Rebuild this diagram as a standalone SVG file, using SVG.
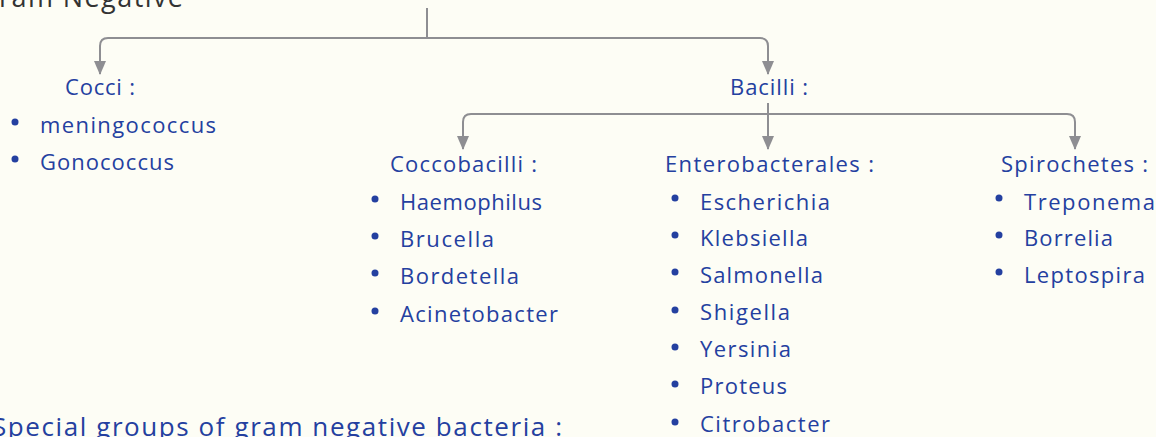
<svg xmlns="http://www.w3.org/2000/svg" width="1156" height="437" viewBox="0 0 1156 437">
<defs>
<marker id="arr" viewBox="0 0 14 12" refX="13" refY="6" markerWidth="14" markerHeight="12" markerUnits="userSpaceOnUse" orient="auto">
<path d="M0,0 L14,6 L0,12 z" fill="#8e8e92"/>
</marker>
<style>
.t{font-family:"Open Sans","Liberation Sans",sans-serif;font-size:22px;fill:#2440a0;}
.s{font-family:"Open Sans","Liberation Sans",sans-serif;font-size:26px;fill:#2440a0;}
.h{font-family:"Open Sans","Liberation Sans",sans-serif;font-size:27px;fill:#333333;}
.c{fill:none;stroke:#8e8e92;stroke-width:2;}
.b{fill:#2440a0;}
</style>
</defs>
<rect width="1156" height="437" fill="#fdfdf5"/>
<g id="connectors">
<path class="c" d="M427,8 V38"/>
<path class="c" d="M427,38 H108 Q100,38 100,46 V74" marker-end="url(#arr)"/>
<path class="c" d="M427,38 H760 Q768,38 768,46 V74" marker-end="url(#arr)"/>
<path class="c" d="M768,103 V149" marker-end="url(#arr)"/>
<path class="c" d="M768,114 H471 Q463,114 463,122 V149" marker-end="url(#arr)"/>
<path class="c" d="M768,114 H1067 Q1075,114 1075,122 V149" marker-end="url(#arr)"/>
</g>
<g id="gram-negative"><text class="h" x="-22" y="7" textLength="205">Gram Negative</text></g>
<g id="cocci">
<text class="t" x="65" y="95" textLength="70">Cocci :</text>
<circle class="b" cx="15" cy="122" r="3.5"/><text class="t" x="40" y="133" textLength="176">meningococcus</text>
<circle class="b" cx="15" cy="159" r="3.5"/><text class="t" x="40" y="170" textLength="134">Gonococcus</text>
</g>
<g id="bacilli"><text class="t" x="730" y="95" textLength="78">Bacilli :</text></g>
<g id="coccobacilli">
<text class="t" x="390" y="172" textLength="147">Coccobacilli :</text>
<circle class="b" cx="375" cy="199" r="3.5"/><text class="t" x="400" y="210" textLength="142">Haemophilus</text>
<circle class="b" cx="375" cy="236" r="3.5"/><text class="t" x="400" y="247" textLength="94">Brucella</text>
<circle class="b" cx="375" cy="273" r="3.5"/><text class="t" x="400" y="284" textLength="119">Bordetella</text>
<circle class="b" cx="375" cy="311" r="3.5"/><text class="t" x="400" y="322" textLength="158">Acinetobacter</text>
</g>
<g id="enterobacterales">
<text class="t" x="665" y="172" textLength="209">Enterobacterales :</text>
<circle class="b" cx="675" cy="198" r="3.5"/><text class="t" x="700" y="210" textLength="130">Escherichia</text>
<circle class="b" cx="675" cy="235" r="3.5"/><text class="t" x="700" y="246" textLength="108">Klebsiella</text>
<circle class="b" cx="675" cy="272" r="3.5"/><text class="t" x="700" y="283" textLength="123">Salmonella</text>
<circle class="b" cx="675" cy="310" r="3.5"/><text class="t" x="700" y="320" textLength="90">Shigella</text>
<circle class="b" cx="675" cy="347" r="3.5"/><text class="t" x="700" y="357" textLength="91">Yersinia</text>
<circle class="b" cx="675" cy="384" r="3.5"/><text class="t" x="700" y="394" textLength="87">Proteus</text>
<circle class="b" cx="675" cy="422" r="3.5"/><text class="t" x="700" y="432" textLength="130">Citrobacter</text>
</g>
<g id="spirochetes">
<text class="t" x="1001" y="172" textLength="147">Spirochetes :</text>
<circle class="b" cx="999" cy="198" r="3.5"/><text class="t" x="1024" y="210" textLength="131">Treponema</text>
<circle class="b" cx="999" cy="235" r="3.5"/><text class="t" x="1024" y="246" textLength="89">Borrelia</text>
<circle class="b" cx="999" cy="272" r="3.5"/><text class="t" x="1024" y="283" textLength="121">Leptospira</text>
</g>
<g id="special"><text class="s" x="-8" y="436" textLength="570">Special groups of gram negative bacteria :</text></g>
</svg>
